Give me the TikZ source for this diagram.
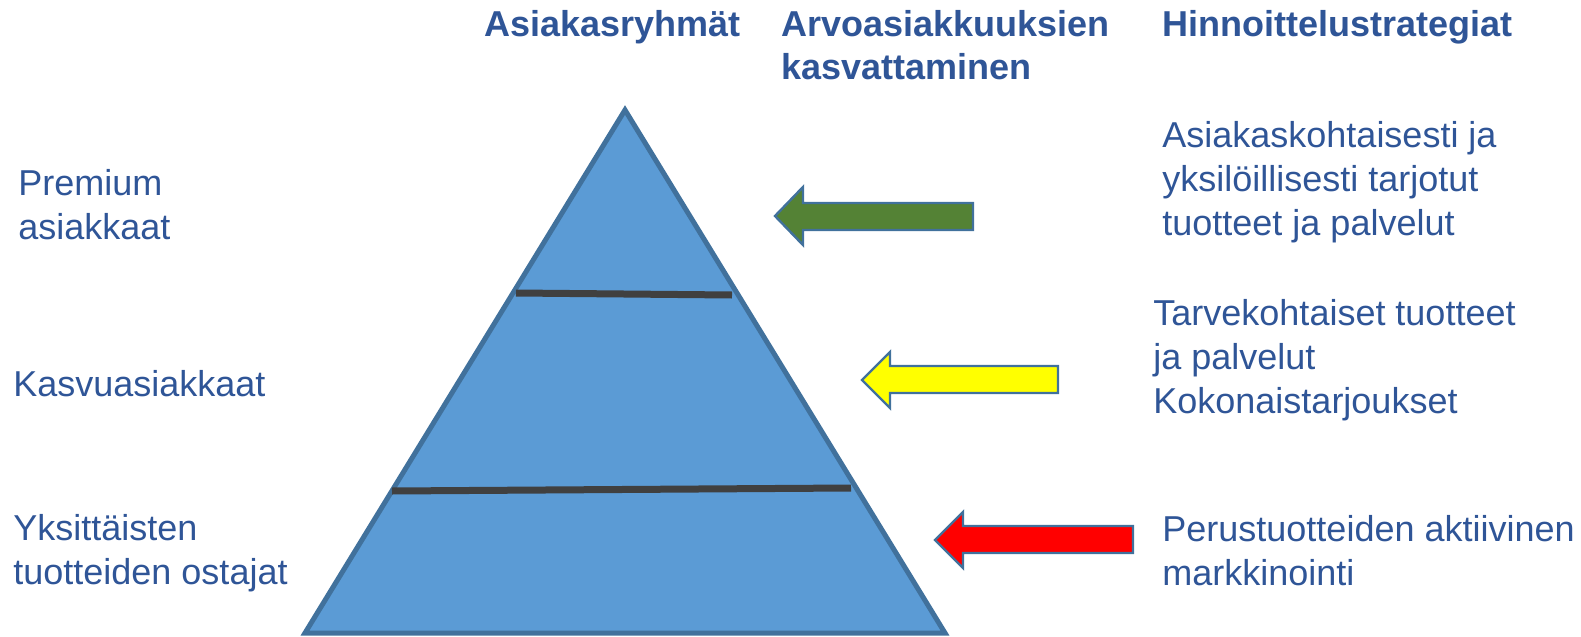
\documentclass[tikz,border=0pt]{standalone}
\usepackage{fontspec}
\setmainfont{Liberation Sans}
\begin{document}
\definecolor{txt}{HTML}{2F5597}
\definecolor{pyrfill}{HTML}{5B9BD5}
\definecolor{pyredge}{HTML}{41719C}
\definecolor{divider}{HTML}{404040}
\definecolor{arrgreen}{HTML}{548235}
\definecolor{arryellow}{HTML}{FFFF00}
\definecolor{arrred}{HTML}{FF0000}
% multi-line labels are placed by the baseline of their last line
\begin{tikzpicture}[x=0.5pt,y=-0.5pt,
  label/.style={anchor=base west,inner sep=0pt,align=left,text=txt,
    font=\fontsize{18}{21.8}\selectfont},
  head/.style={label,font=\fontsize{18}{21.5}\selectfont\bfseries},
  blockarrow/.style={draw=pyredge,line width=1.2pt,line join=miter},
  divline/.style={draw=divider,line width=3.5pt}]
\useasboundingbox (0,0) rectangle (1581,637);

% pyramid
\coordinate (apex) at (625,110);
\coordinate (bl) at (305,633);
\coordinate (br) at (945,633);
\draw[fill=pyrfill,draw=pyredge,line width=2.5pt,line join=miter] (apex) -- (bl) -- (br) -- cycle;

% level dividers
\coordinate (d1a) at (516,293);
\coordinate (d1b) at (732,295);
\coordinate (d2a) at (392,491);
\coordinate (d2b) at (851,488);
\draw[divline] (d1a) -- (d1b);
\draw[divline] (d2a) -- (d2b);

% block arrows pointing at the pyramid
\draw[blockarrow,fill=arrgreen] (775,216) -- (803,187) -- (803,203) -- (973,203) -- (973,230) -- (803,230) -- (803,245) -- cycle;
\draw[blockarrow,fill=arryellow] (862,380) -- (890,352) -- (890,366) -- (1058,366) -- (1058,393) -- (890,393) -- (890,408) -- cycle;
\draw[blockarrow,fill=arrred] (935,540) -- (963,512) -- (963,526) -- (1133,526) -- (1133,553) -- (963,553) -- (963,568) -- cycle;

% column headings
\node[head] (h1) at (484,36) {Asiakasryhmät};
\node[head] (h2) at (781,79) {Arvoasiakkuuksien\\kasvattaminen};
\node[head] (h3) at (1162,36) {Hinnoittelustrategiat};

% customer groups
\node[label] (g1) at (18,239) {Premium\\asiakkaat};
\node[label] (g2) at (13,396) {Kasvuasiakkaat};
\node[label] (g3) at (13,584) {Yksittäisten\\tuotteiden ostajat};

% pricing strategies
\node[label] (s1) at (1162,235) {Asiakaskohtaisesti ja\\yksilöillisesti tarjotut\\tuotteet ja palvelut};
\node[label] (s2) at (1153,413) {Tarvekohtaiset tuotteet\\ja palvelut\\Kokonaistarjoukset};
\node[label] (s3) at (1162,585) {Perustuotteiden aktiivinen\\markkinointi};
\end{tikzpicture}
\end{document}
